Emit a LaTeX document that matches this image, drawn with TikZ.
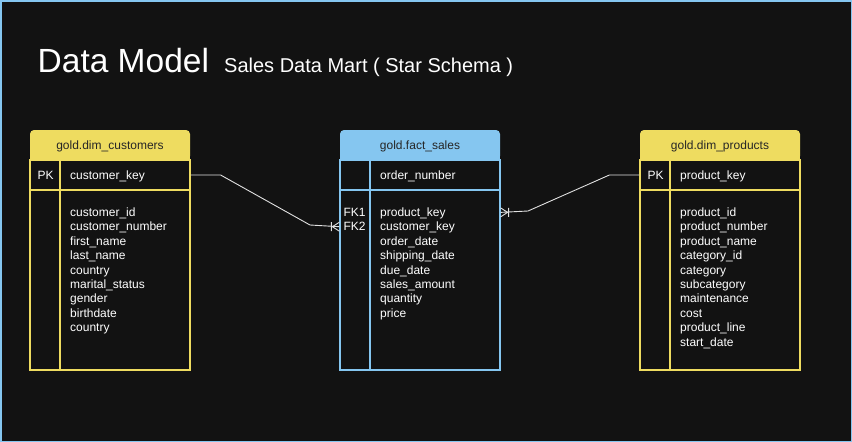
\documentclass[tikz,border=0pt]{standalone}
\usepackage{fontspec}
\setmainfont{Liberation Sans}
\definecolor{bgdark}{RGB}{18,18,18}
\definecolor{dimyellow}{RGB}{238,220,96}
\definecolor{factblue}{RGB}{133,198,240}
\definecolor{linkgray}{RGB}{225,225,225}
\tikzset{
  rowbox/.style={draw=#1, line width=1.2pt, minimum width=160pt, minimum height=30pt, inner sep=0pt},
  bodybox/.style={draw=#1, line width=1.2pt, minimum width=160pt, minimum height=180pt, inner sep=0pt},
  coltxt/.style={text=white, font=\fontsize{12}{14.4}\selectfont, inner sep=0pt, anchor=base west},
  headtxt/.style={text=black!85, font=\fontsize{12}{14.4}\selectfont, inner sep=0pt, anchor=base},
  link/.style={draw=linkgray, line width=0.9pt},
  crowfoot/.pic={\draw[link] (-7,0) -- (0,-4.5) (-7,0) -- (0,4.5) (-8,-4.5) -- (-8,4.5);}
}
\begin{document}
\begin{tikzpicture}[x=1pt,y=-1pt]
          % background and frame
          \fill[bgdark] (0,0) rectangle (852,442);
          \draw[factblue, line width=1.5pt] (0.75,0.75) rectangle (851.25,441.25);
          % title
          \node[coltxt, font=\fontsize{33.5}{40}\selectfont] (title) at (37.5,72.3) {Data Model};
          \node[coltxt, font=\fontsize{20}{24}\selectfont] (subtitle) at (224,72.3) {Sales Data Mart ( Star Schema )};
          % customers table
          \fill[dimyellow, rounded corners=4pt] (30,130) rectangle (190,160);
          \fill[dimyellow] (30,145) rectangle (190,160);
          \node[headtxt] (custhead) at (110,149.5) {gold.dim\_customers};
          \node[rowbox=dimyellow] (custrow) at (110,175) {};
          \node[bodybox=dimyellow] (custbody) at (110,280) {};
          \draw[dimyellow, line width=1.2pt] (60,160) -- (60,370);
          \node[coltxt] (custpk) at (37.5,179.5) {PK};
          \node[coltxt] (custkey) at (70,179.5) {customer\_key};
          % base of a many-line node is its last line
          \node[coltxt, align=left] (custcols) at (70,331.7) {customer\_id\\customer\_number\\first\_name\\last\_name\\country\\marital\_status\\gender\\birthdate\\country};
          % fact table
          \fill[factblue, rounded corners=4pt] (340,130) rectangle (500,160);
          \fill[factblue] (340,145) rectangle (500,160);
          \node[headtxt] (facthead) at (420,149.5) {gold.fact\_sales};
          \node[rowbox=factblue] (factrow) at (420,175) {};
          \node[bodybox=factblue] (factbody) at (420,280) {};
          \draw[factblue, line width=1.2pt] (370,160) -- (370,370);
          \node[coltxt] (factkey) at (380,179.5) {order\_number};
          \node[coltxt] (fk1) at (343.3,216.5) {FK1};
          \node[coltxt] (fk2) at (343.3,230.9) {FK2};
          \node[coltxt, align=left] (factcols) at (380,317.3) {product\_key\\customer\_key\\order\_date\\shipping\_date\\due\_date\\sales\_amount\\quantity\\price};
          % products table
          \fill[dimyellow, rounded corners=4pt] (640,130) rectangle (800,160);
          \fill[dimyellow] (640,145) rectangle (800,160);
          \node[headtxt] (prodhead) at (720,149.5) {gold.dim\_products};
          \node[rowbox=dimyellow] (prodrow) at (720,175) {};
          \node[bodybox=dimyellow] (prodbody) at (720,280) {};
          \draw[dimyellow, line width=1.2pt] (670,160) -- (670,370);
          \node[coltxt] (prodpk) at (647.5,179.5) {PK};
          \node[coltxt] (prodkey) at (680,179.5) {product\_key};
          \node[coltxt, align=left] (prodcols) at (680,346.1) {product\_id\\product\_number\\product\_name\\category\_id\\category\\subcategory\\maintenance\\cost\\product\_line\\start\_date};
          % two links
          \draw[link] (custrow.east) -- ++(30,0) -- (310,225) -- (factbody.west |- fk2);
          \pic at (factbody.west |- fk2) {crowfoot};
          \draw[link] (prodrow.west) -- ++(-30,0) -- (528,211) -- (factbody.east |- fk1);
          \pic[xscale=-1] at (factbody.east |- fk1) {crowfoot};
        \end{tikzpicture}
\end{document}
